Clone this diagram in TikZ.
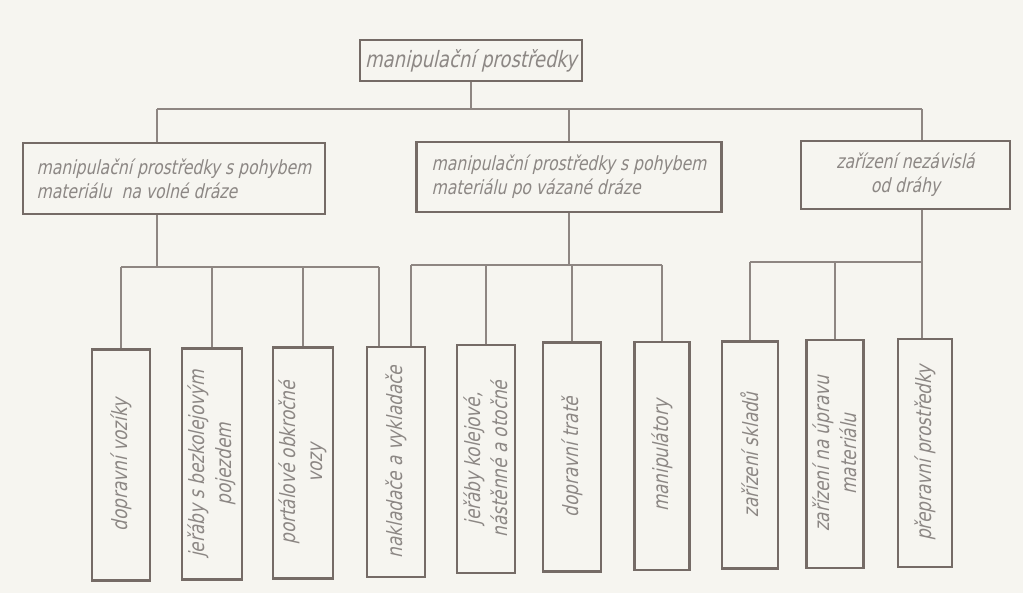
\documentclass[tikz,border=0pt]{standalone}
\usepackage{fontspec}
\usetikzlibrary{calc}
% slanted, narrow lettering in the style of technical drawing script
\newfontfamily\techfont{DejaVu Sans}[FakeSlant=0.22,FakeStretch=0.8]
\definecolor{paper}{HTML}{F6F5F0}
\definecolor{frame}{HTML}{756B66}
\definecolor{wire}{HTML}{8E8682}
\definecolor{ink}{HTML}{8C8784}
\tikzset{
  box/.style={draw=frame, line width=2.4pt, inner sep=0pt, text=ink,
    font=\techfont\fontsize{19.5}{24}\selectfont},
  hbox/.style={box, align=left},
  vbox/.style={box, rotate=90, align=center,
    font=\techfont\fontsize{21}{27}\selectfont},
  wire/.style={draw=wire, line width=1.6pt},
}
\begin{document}
\begin{tikzpicture}[x=1pt,y=-1pt]
\fill[paper] (0,0) rectangle (1023,593);
\useasboundingbox (0,0) rectangle (1023,593);

% root
\node[box, minimum width=222pt, minimum height=41pt,
  font=\techfont\fontsize{22.5}{27}\selectfont] (root) at (471,60.5) {manipulační prostředky};

% second level
\node[hbox, minimum width=302pt, minimum height=71pt] (m1) at (174,178.5)
  {manipulační prostředky s pohybem\\ materiálu \ na volné dráze};
\node[hbox, minimum width=305pt, minimum height=70pt] (m2) at (569,177)
  {manipulační prostředky s pohybem\\ materiálu po vázané dráze};
\node[box, align=center, minimum width=209pt, minimum height=68pt] (m3) at (905.5,175)
  {zařízení nezávislá\\ od dráhy};

% third level (text runs upward)
\node[vbox, minimum width=231pt, minimum height=58pt] (b1) at (121,465) {dopravní vozíky};
\node[vbox, minimum width=231pt, minimum height=60pt] (b2) at (212,464) {jeřáby s bezkolejovým\\ pojezdem};
\node[vbox, minimum width=231pt, minimum height=60pt] (b3) at (303,463) {portálové obkročné\\ vozy};
\node[vbox, minimum width=230pt, minimum height=58pt] (b4) at (396,462) {nakladače a vykladače};
\node[vbox, minimum width=228pt, minimum height=58pt] (b5) at (486,459) {jeřáby kolejové,\\ nástěnné a otočné};
\node[vbox, minimum width=229pt, minimum height=58pt] (b6) at (572,457) {dopravní tratě};
\node[vbox, minimum width=228pt, minimum height=55pt] (b7) at (662,456) {manipulátory};
\node[vbox, minimum width=227pt, minimum height=56pt] (b8) at (750,455) {zařízení skladů};
\node[vbox, minimum width=228pt, minimum height=57pt] (b9) at (835,454) {zařízení na úpravu\\ materiálu};
\node[vbox, minimum width=228pt, minimum height=54pt] (b10) at (925,453) {přepravní prostředky};

% junction points of the busses
\coordinate (jL) at (157,109);
\coordinate (jR) at (922,109);
\coordinate (kL) at (157,267);
\coordinate (kM) at (569,265);
\coordinate (kR) at (922,262);
\coordinate (b4l) at ($(b4.east)+(-17,0)$);
\coordinate (b4r) at ($(b4.east)+(15,0)$);

% root to second level
\draw[wire] (root.south) -- (root.south |- jL);
\draw[wire] (jL) -- (jR);
\draw[wire] (jL) -- (jL |- m1.north);
\draw[wire] (m2.north |- jL) -- (m2.north);
\draw[wire] (jR) -- (jR |- m3.north);

% left group
\draw[wire] (kL |- m1.south) -- (kL);
\draw[wire] (b1.east |- kL) -- (b4l |- kL);
\draw[wire] (b1.east |- kL) -- (b1.east);
\draw[wire] (b2.east |- kL) -- (b2.east);
\draw[wire] (b3.east |- kL) -- (b3.east);
\draw[wire] (b4l |- kL) -- (b4l);

% middle group
\draw[wire] (m2.south) -- (kM);
\draw[wire] (b4r |- kM) -- (b7.east |- kM);
\draw[wire] (b4r |- kM) -- (b4r);
\draw[wire] (b5.east |- kM) -- (b5.east);
\draw[wire] (b6.east |- kM) -- (b6.east);
\draw[wire] (b7.east |- kM) -- (b7.east);

% right group
\draw[wire] (kR |- m3.south) -- (kR);
\draw[wire] (b8.east |- kR) -- (kR);
\draw[wire] (b8.east |- kR) -- (b8.east);
\draw[wire] (b9.east |- kR) -- (b9.east);
\draw[wire] (kR) -- (kR |- b10.east);
\end{tikzpicture}
\end{document}
